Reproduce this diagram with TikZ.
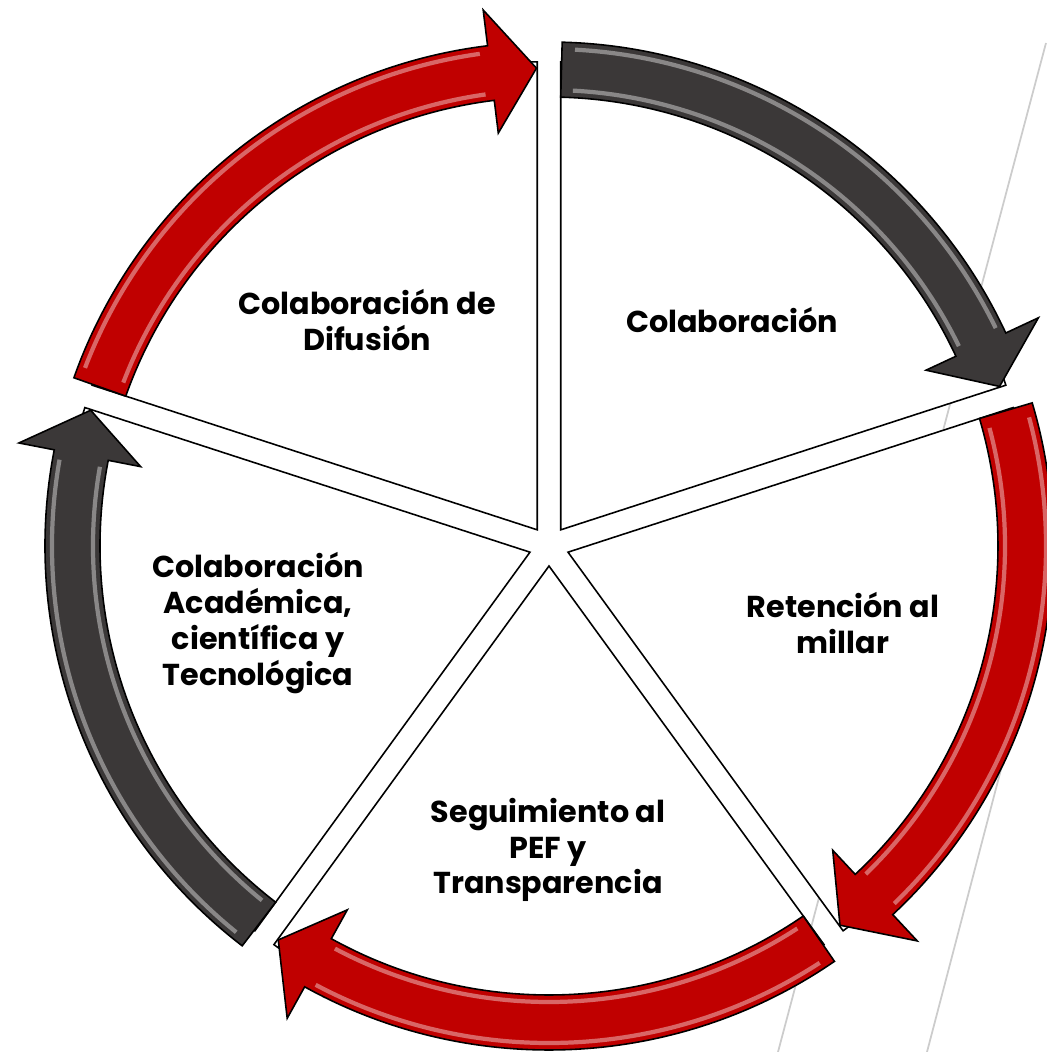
\documentclass[tikz,border=0pt]{standalone}
\usepackage{fontspec}
\setmainfont{Poppins}
\usepackage{tikz}

\definecolor{cyclered}{HTML}{C00000}
\definecolor{cyclegrey}{HTML}{3B3838}

% curved arrow on the ring: #1 fill colour, #2 angle of the segment edge where it starts
\newcommand{\ringarrow}[2]{%
	\draw[ringarrow, fill=#1] (#2-1.5:504) arc[start angle=#2-1.5, end angle=#2-65, radius=504]
		-- (#2-65:540) -- (#2-70.5:478) -- (#2-65:416) -- (#2-65:449)
		arc[start angle=#2-65, end angle=#2-1.5, radius=449] -- cycle;
	\draw[gloss] (#2-3:497) arc[start angle=#2-3, end angle=#2-64, radius=497];
	\draw[gloss] (#2-3:456) arc[start angle=#2-3, end angle=#2-64, radius=456];
}

% pie segment pushed out from the centre: #1 angle of its first edge
\newcommand{\ringsegment}[1]{%
	\draw[segment] (#1-36:20) -- ++(#1:468) arc[start angle=#1, end angle=#1-72, radius=468] -- cycle;
}

\begin{document}
\begin{tikzpicture}[x=0.1mm, y=0.1mm]
	\tikzstyle{segment} = [draw=black, fill=white, line width=0.45pt, line join=miter]
	\tikzstyle{ringarrow} = [draw=black, line width=0.45pt, line join=miter]
	\tikzstyle{gloss} = [draw=white, opacity=0.4, line width=1.2pt]
	\tikzstyle{label} = [align=center, text=black, font=\bfseries\fontsize{8.6}{10.2}\selectfont]
	\tikzstyle{backline} = [draw=black!20, line width=0.5pt]
	
	\useasboundingbox (-549,-506) rectangle (497,546);
	
	% faint lines behind the figure
	\draw [backline] (497,503) -- (229,-506);
	\draw [backline] (461,-189) -- (378,-506);
	
	% Segments
	\ringsegment{90}
	\ringsegment{18}
	\ringsegment{-54}
	\ringsegment{-126}
	\ringsegment{162}
	
	% Arrows round the ring
	\ringarrow{cyclered}{162}
	\ringarrow{cyclegrey}{90}
	\ringarrow{cyclered}{18}
	\ringarrow{cyclered}{-54}
	\ringarrow{cyclegrey}{-126}
	
	% Labels
	\node (difusion) [label] at (-182,226) {Colaboración de\\Difusión};
	\node (colab) [label] at (183,226) {Colaboración};
	\node (retencion) [label] at (294,-77) {Retención al\\millar};
	\node (pef) [label] at (-1,-304) {Seguimiento al\\PEF y\\Transparencia};
	\node (academica) [label] at (-291,-77) {Colaboración\\Académica,\\científica y\\Tecnológica};
\end{tikzpicture}
\end{document}
